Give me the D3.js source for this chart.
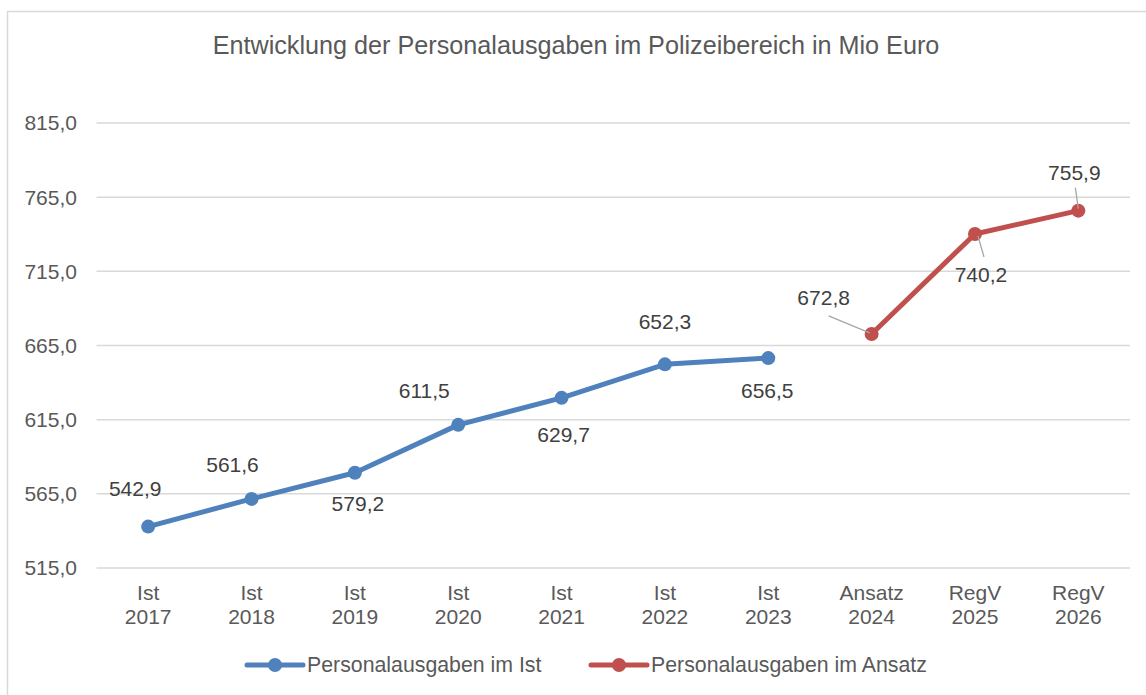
<!DOCTYPE html>
<html>
<head>
  <meta charset="UTF-8">
  <title>Personalausgaben Polizeibereich</title>
  <script src="https://d3js.org/d3.v7.min.js"></script>
  <style>
    body { margin: 0; background: #fff; }
    svg { display: block; font-family: "Liberation Sans", Arial, sans-serif; }
    .grid line { stroke: #d9d9d9; stroke-width: 1.5; }
    .tick-label { font-size: 21px; fill: #595959; }
    .dlabel { font-size: 21px; fill: #404040; text-anchor: middle; }
    .legend text { font-size: 21.3px; fill: #595959; }
  </style>
</head>
<body>
  <svg width="1146" height="695"></svg>
  <script>
    // categories (two-line labels)
    const catTop = ["Ist", "Ist", "Ist", "Ist", "Ist", "Ist", "Ist", "Ansatz", "RegV", "RegV"];
    const catYear = ["2017", "2018", "2019", "2020", "2021", "2022", "2023", "2024", "2025", "2026"];

    // series values in Mio Euro
    const istValues = [542.9, 561.6, 579.2, 611.5, 629.7, 652.3, 656.5];
    const ansatzValues = [672.8, 740.2, 755.9];

    const yTicks = [515, 565, 615, 665, 715, 765, 815];

    // label offsets from each point (layout only)
    const istOffsets = [[-13, -31], [-19, -27], [3, 38], [-34, -27], [2, 44], [0, -35], [-1, 40]];
    const ansatzOffsets = [[-48, -29], [6, 48], [-4, -31]];
    const ansatzLeaders = [[[-43, -18], [-2, -1]], [[9, 23], [3, 2]], [[-3, -23], [0, -2]]];

    const fmt = v => d3.format(".1f")(v).replace(".", ",");

    const svg = d3.select("svg");

    // outer frame
    svg.append("rect")
      .attr("x", 7.5).attr("y", 11.5)
      .attr("width", 1150).attr("height", 700)
      .attr("fill", "none").attr("stroke", "#d9d9d9").attr("stroke-width", 1.5);

    svg.append("text")
      .attr("x", 576).attr("y", 54)
      .attr("text-anchor", "middle")
      .attr("font-size", 25.2)
      .attr("fill", "#595959")
      .text("Entwicklung der Personalausgaben im Polizeibereich in Mio Euro");

    const left = 96.5, right = 1130;
    const x = d3.scalePoint()
      .domain(catYear)
      .range([left, right])
      .padding(0.5);

    const y = d3.scaleLinear()
      .domain([515, 815])
      .range([568, 123]);

    // gridlines
    svg.append("g").attr("class", "grid")
      .selectAll("line")
      .data(yTicks)
      .join("line")
      .attr("x1", left).attr("x2", right)
      .attr("y1", d => y(d)).attr("y2", d => y(d));

    // y tick labels
    svg.selectAll(".ylab")
      .data(yTicks)
      .join("text")
      .attr("class", "tick-label ylab")
      .attr("x", 77)
      .attr("y", d => y(d))
      .attr("dy", "0.35em")
      .attr("text-anchor", "end")
      .text(d => fmt(d));

    // x tick labels
    const xl = svg.selectAll(".xlab")
      .data(catYear)
      .join("text")
      .attr("class", "tick-label xlab")
      .attr("text-anchor", "middle")
      .attr("x", d => x(d));
    xl.append("tspan").attr("x", d => x(d)).attr("y", 600).text((d, i) => catTop[i]);
    xl.append("tspan").attr("x", d => x(d)).attr("y", 624).text(d => d);

    const istData = istValues.map((v, i) => ({ cat: catYear[i], v, off: istOffsets[i] }));
    const ansData = ansatzValues.map((v, i) => ({ cat: catYear[istValues.length + i], v, off: ansatzOffsets[i], lead: ansatzLeaders[i] }));

    const line = d3.line().x(d => x(d.cat)).y(d => y(d.v));

    function drawSeries(data, color) {
      svg.append("path")
        .datum(data)
        .attr("d", line)
        .attr("fill", "none")
        .attr("stroke", color)
        .attr("stroke-width", 5)
        .attr("stroke-linejoin", "round");
      svg.append("g").selectAll("circle")
        .data(data)
        .join("circle")
        .attr("cx", d => x(d.cat))
        .attr("cy", d => y(d.v))
        .attr("r", 7)
        .attr("fill", color);
    }

    drawSeries(istData, "#4f81bd");
    drawSeries(ansData, "#c0504d");

    // leader lines for the Ansatz labels
    svg.append("g").selectAll("line")
      .data(ansData)
      .join("line")
      .attr("x1", d => x(d.cat) + d.lead[0][0])
      .attr("y1", d => y(d.v) + d.lead[0][1])
      .attr("x2", d => x(d.cat) + d.lead[1][0])
      .attr("y2", d => y(d.v) + d.lead[1][1])
      .attr("stroke", "#a6a6a6")
      .attr("stroke-width", 1.3);

    svg.append("g").selectAll("text")
      .data(istData.concat(ansData))
      .join("text")
      .attr("class", "dlabel")
      .attr("x", d => x(d.cat) + d.off[0])
      .attr("y", d => y(d.v) + d.off[1])
      .text(d => fmt(d.v));

    // legend
    const legendItems = [
      { name: "Personalausgaben im Ist", color: "#4f81bd", x: 247 },
      { name: "Personalausgaben im Ansatz", color: "#c0504d", x: 591 }
    ];
    const lg = svg.append("g").attr("class", "legend")
      .selectAll("g")
      .data(legendItems)
      .join("g")
      .attr("transform", d => `translate(${d.x},665)`);
    lg.append("line")
      .attr("x1", 0).attr("x2", 56)
      .attr("stroke", d => d.color)
      .attr("stroke-width", 5)
      .attr("stroke-linecap", "round");
    lg.append("circle")
      .attr("cx", 28).attr("r", 7)
      .attr("fill", d => d.color);
    lg.append("text")
      .attr("x", 60).attr("dy", "0.35em")
      .text(d => d.name);
  </script>
</body>
</html>
